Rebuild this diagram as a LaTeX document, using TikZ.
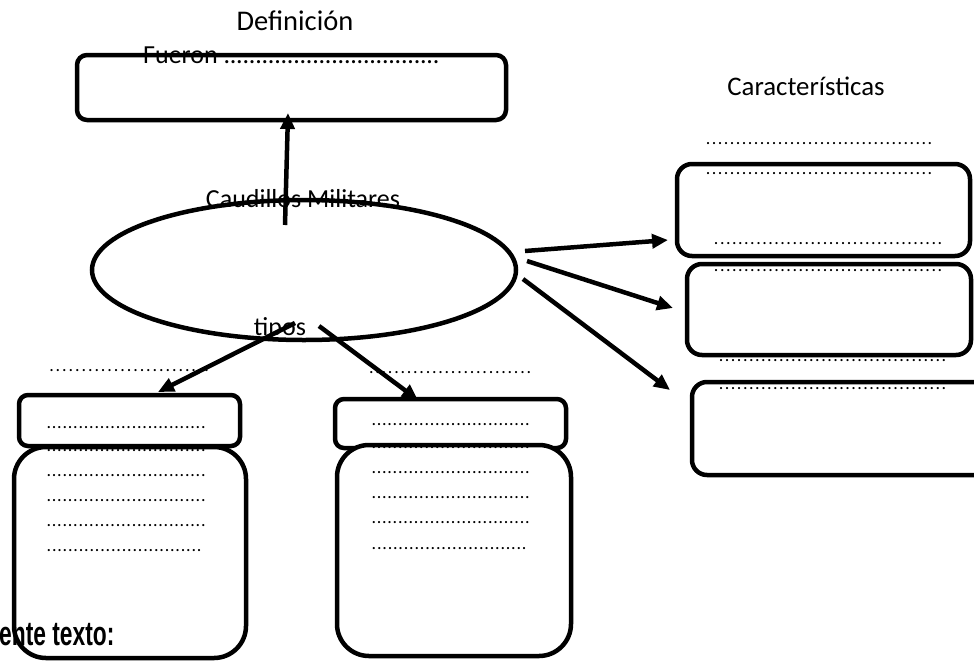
\documentclass[tikz,border=0pt]{standalone}
\usepackage{fontspec}
\setmainfont{Carlito}
\newfontfamily\narrowbf[FakeStretch=0.67]{Liberation Sans Bold}
\usetikzlibrary{shapes.geometric,arrows.meta}
\newcommand\mydots[2]{\hbox to #1{\xleaders\hbox to #2{\hss.\hss}\hfill}}
\begin{document}
\begin{tikzpicture}[x=1pt,y=-1pt,
  boxs/.style={draw=black, line width=4.5pt, fill=white, rounded corners=#1, inner sep=0pt, outer sep=0pt},
  boxs/.default=10pt,
  oval/.style={draw=black, line width=4.5pt, ellipse, inner sep=0pt, outer sep=0pt},
  txt/.style={inner sep=0pt, font=\fontsize{26}{30}\selectfont},
  dotr/.style={inner sep=0pt, anchor=base west, font=\fontsize{18}{20}\selectfont},
  arr/.style={line width=4.5pt, -{Triangle[length=16pt,width=14pt]}}]
\useasboundingbox (0,0) rectangle (974,662);
\fill[white] (0,0) rectangle (974,662);

% arrow hidden under the middle box
\coordinate (t2s) at (319,326);
\coordinate (t2e) at (418,400);
\draw[arr] (t2s) -- (t2e);

% boxes
\node[boxs=10pt, minimum width=429pt, minimum height=65pt] (topbox) at (291.5,87.5) {};
\node[oval, minimum width=424pt, minimum height=140pt] (cm) at (304,270) {};

\node[boxs=9pt, minimum width=221pt, minimum height=51pt] (lsm) at (129.5,420.5) {};
\node[boxs=32pt, minimum width=232pt, minimum height=211pt] (lbig) at (130,552.5) {};
\node[boxs=9pt, minimum width=231pt, minimum height=49pt] (msm) at (450.5,423.5) {};
\node[boxs=32pt, minimum width=234pt, minimum height=211pt] (mbig) at (454,550.5) {};

\node[boxs=15pt, minimum width=293pt, minimum height=92pt] (r1) at (823.5,210) {};
\node[boxs=15pt, minimum width=284pt, minimum height=91pt] (r2) at (829,309.5) {};
\node[boxs=15pt, minimum width=306pt, minimum height=93pt] (r3) at (845,428.5) {};

% texts
\node[txt, anchor=base, font=\fontsize{28.5}{32}\selectfont] (def) at (295,30) {Definición};
\node[txt, anchor=base west] (fue) at (143,63) {Fueron \mydots{216pt}{6.3pt}};
\node[txt, anchor=base] (cmt) at (303,207) {Caudillos Militares};
\node[txt, anchor=base] (tip) at (280,335) {tipos};
\node[txt, anchor=base, font=\fontsize{26.8}{30}\selectfont] (car) at (806,95) {Características};
\node[inner sep=0pt, anchor=base west, font=\narrowbf\fontsize{34}{36}\selectfont] (ent) at (-1,645) {ente texto:};

% dotted rows
\node[dotr] (dl0) at (48,371) {\mydots{162pt}{6.3pt}};
\node[dotr] (dm0) at (368,373) {\mydots{164pt}{6.3pt}};
\foreach \y [count=\i] in {428,451,476,501,526} {
  \node[dotr] (dl\i) at (46,\y) {\mydots{160pt}{5.3pt}};
  \node[dotr] (dm\i) at (371,\y-3) {\mydots{159pt}{5.3pt}};
}
\node[dotr] (dl6) at (46,551) {\mydots{156pt}{5.3pt}};
\node[dotr] (dm6) at (371,549) {\mydots{156pt}{5.3pt}};

\node[dotr] (dr1) at (705,144) {\mydots{228pt}{6pt}};
\node[dotr] (dr2) at (705,174) {\mydots{228pt}{6pt}};
\node[dotr] (dr3) at (713,244) {\mydots{230pt}{6pt}};
\node[dotr] (dr4) at (713,271) {\mydots{230pt}{6pt}};
\node[dotr] (dr5) at (718,361) {\mydots{229pt}{6pt}};
\node[dotr] (dr6) at (718,389) {\mydots{229pt}{6pt}};

% connectors
\coordinate (a0s) at (285,225);
\coordinate (a0e) at (288,113);
\draw[arr] (a0s) -- (a0e);

\coordinate (t1s) at (295,323);
\coordinate (t1e) at (158,392);
\draw[arr] (t1s) -- (t1e);

\coordinate (c1s) at (525,251);
\coordinate (c1e) at (668,240);
\draw[arr] (c1s) -- (c1e);
\coordinate (c2s) at (527,261);
\coordinate (c2e) at (673,308);
\draw[arr] (c2s) -- (c2e);
\coordinate (c3s) at (523,279);
\coordinate (c3e) at (670,390);
\draw[arr] (c3s) -- (c3e);
\end{tikzpicture}
\end{document}
